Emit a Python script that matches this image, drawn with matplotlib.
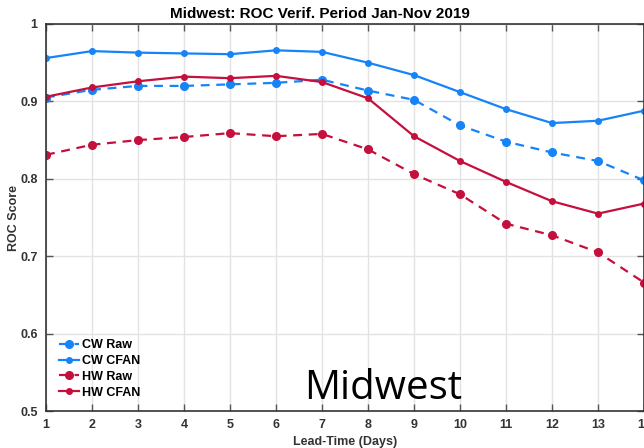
import numpy as np
import matplotlib
matplotlib.use('Agg')
import matplotlib.pyplot as plt

lead_days = [1, 2, 3, 4, 5, 6, 7, 8, 9, 10, 11, 12, 13, 14]
cw_raw = [0.905, 0.915, 0.920, 0.920, 0.922, 0.924, 0.928, 0.914, 0.902,
          0.869, 0.848, 0.834, 0.823, 0.798]
cw_cfan = [0.956, 0.965, 0.963, 0.962, 0.961, 0.966, 0.964, 0.950, 0.934,
           0.912, 0.890, 0.872, 0.875, 0.888]
hw_raw = [0.831, 0.844, 0.850, 0.854, 0.859, 0.855, 0.858, 0.838, 0.806,
          0.780, 0.742, 0.727, 0.705, 0.666]
hw_cfan = [0.906, 0.918, 0.926, 0.932, 0.930, 0.933, 0.925, 0.904, 0.855,
           0.823, 0.796, 0.771, 0.755, 0.768]
xticks = list(range(1, 15))
yticks = [0.5, 0.6, 0.7, 0.8, 0.9, 1.0]
ytick_labels = ['0.5', '0.6', '0.7', '0.8', '0.9', '1']

blue = '#1684F8'
red = '#C50F3C'

plt.rcParams['font.family'] = ['Liberation Sans', 'DejaVu Sans']

fig = plt.figure(figsize=(6.44, 4.48), dpi=100)
ax = fig.add_axes([46 / 644, 37 / 448, 598 / 644, 387 / 448])

ax.plot(lead_days, cw_raw, '--o', color=blue, lw=1.6, ms=5.5, dashes=(4, 3), label='CW Raw')
ax.plot(lead_days, cw_cfan, '-o', color=blue, lw=1.6, ms=4, label='CW CFAN')
ax.plot(lead_days, hw_raw, '--o', color=red, lw=1.6, ms=5.5, dashes=(4, 3), label='HW Raw')
ax.plot(lead_days, hw_cfan, '-o', color=red, lw=1.6, ms=4, label='HW CFAN')

ax.set_xlim(1, 14)
ax.set_ylim(0.5, 1.0)
ax.set_xticks(xticks)
ax.set_yticks(yticks)
ax.set_yticklabels(ytick_labels)
ax.grid(True, color='#e3e3e3', lw=1)
ax.set_axisbelow(True)
ax.tick_params(direction='in', length=5, width=1, color='#555555',
               top=True, right=True, labelsize=9, pad=6)
for lbl in ax.get_xticklabels() + ax.get_yticklabels():
    lbl.set_fontweight('bold')
    lbl.set_color('#333333')
for sp in ax.spines.values():
    sp.set_color('#333333')
    sp.set_linewidth(1.2)

fig.text(320 / 644, 1 - 18.5 / 448, 'Midwest: ROC Verif. Period Jan-Nov 2019',
         fontsize=11, fontweight='bold', ha='center', va='baseline')
ax.set_xlabel('Lead-Time (Days)', fontsize=9, fontweight='bold', color='#333333', labelpad=3)
ax.set_ylabel('ROC Score', fontsize=9, fontweight='bold', color='#333333', labelpad=0)

leg = ax.legend(loc='lower left', frameon=False, fontsize=9, handlelength=1.6,
                handletextpad=0.3, labelspacing=0.3, borderaxespad=0.6)
for t in leg.get_texts():
    t.set_fontweight('bold')

ax.text(8.33, 0.5155, 'Midwest', fontsize=29, family='Open Sans',
        ha='center', va='baseline')

fig.savefig('out.png', dpi=100)
